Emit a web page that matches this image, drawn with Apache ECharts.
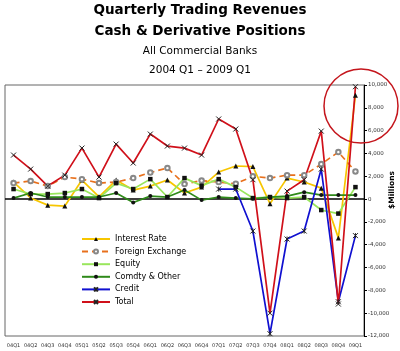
<!DOCTYPE html>
<html>
<head>
<meta charset="utf-8">
<script src="https://cdn.jsdelivr.net/npm/echarts@6/dist/echarts.min.js"></script>
<style>
html,body{margin:0;padding:0;background:#fff;}
#chart{width:400px;height:351px;}
</style>
</head>
<body>
<div id="chart"></div>
<script>
const categories = ['04Q1','04Q2','04Q3','04Q4','05Q1','05Q2','05Q3','05Q4','06Q1','06Q2','06Q3','06Q4','07Q1','07Q2','07Q3','07Q4','08Q1','08Q2','08Q3','08Q4','09Q1'];
const interestRate = [1490, 100, -530, -610, 1670, 200, 1670, 790, 1140, 1670, 530, 1050, 2370, 2900, 2850, -400, 1840, 1500, 960, -3400, 9100];
const foreignExchange = [1400, 1580, 1140, 1930, 1750, 1400, 1490, 1840, 2330, 2720, 1320, 1620, 1490, 1350, 2000, 1840, 2100, 2100, 3070, 4120, 2420];
const equity = [880, 440, 440, 530, 880, 90, 1400, 880, 1750, 180, 1840, 1180, 1750, 1050, 90, 180, 90, 180, -960, -1270, 1050];
const comdtyOther = [90, 530, 180, 180, 180, 180, 530, -300, 260, 180, 790, -90, 180, 90, 30, 180, 260, 610, 350, 350, 350];
const credit = [null, null, null, null, null, null, null, null, null, null, null, null, 880, 880, -2800, -11800, -3500, -2800, 2630, -9000, -3200];
const total = [3860, 2630, 1140, 2100, 4470, 1930, 4820, 3160, 5700, 4650, 4470, 3860, 7020, 6140, 1700, -10000, 700, 1700, 5960, -9200, 9850];
const yTicks = {min: -12000, max: 10000, interval: 2000};

const FONT = '"DejaVu Sans", Verdana, sans-serif';
const X_PATH = 'path://M0 0L10 10M10 0L0 10';
const AST_PATH = 'path://M0 0L10 10M10 0L0 10M5 0L5 10';

const chart = echarts.init(document.getElementById('chart'), null, {renderer: 'canvas'});

function lineSeries(name, data, color, symbol, size, extra) {
  return Object.assign({
    name: name,
    type: 'line',
    data: data,
    symbol: symbol,
    symbolSize: size,
    showAllSymbol: true,
    connectNulls: false,
    lineStyle: {color: color, width: 1.7},
    itemStyle: {color: '#111', borderColor: '#111', borderWidth: 0},
    emphasis: {disabled: true},
    animation: false,
    z: 3
  }, extra || {});
}

const option = {
  backgroundColor: '#fff',
  animation: false,
  textStyle: {fontFamily: FONT},
  grid: {left: 5, right: 36, top: 85, bottom: 15, show: true, borderColor: '#666', borderWidth: 1, backgroundColor: 'transparent'},
  legend: {
    orient: 'vertical',
    left: 81,
    top: 235,
    padding: 0,
    itemWidth: 28,
    itemHeight: 5,
    itemGap: 4.6,
    textStyle: {fontFamily: FONT, fontSize: 8, color: '#000', lineHeight: 8},
    data: ['Interest Rate','Foreign Exchange','Equity','Comdty & Other','Credit','Total']
  },
  xAxis: {
    type: 'category',
    data: categories,
    boundaryGap: true,
    axisLine: {show: false, onZero: false},
    axisTick: {show: false},
    axisLabel: {interval: 0, fontSize: 5, color: '#333', margin: 7, fontFamily: FONT},
    splitLine: {show: false}
  },
  yAxis: {
    type: 'value',
    position: 'right',
    min: yTicks.min,
    max: yTicks.max,
    interval: yTicks.interval,
    axisLine: {show: true, lineStyle: {color: '#000', width: 1}},
    axisTick: {show: true, length: 3, lineStyle: {color: '#000'}},
    axisLabel: {fontSize: 5.5, color: '#333', margin: 4, fontFamily: FONT,
      formatter: v => v.toLocaleString('en-US')},
    splitLine: {show: false}
  },
  series: [
    lineSeries('Interest Rate', interestRate, '#f7c600', 'triangle', 5),
    lineSeries('Foreign Exchange', foreignExchange, '#e8701c', 'emptyCircle', 4.5, {
      lineStyle: {color: '#e8701c', width: 1.7, type: [6, 4]},
      itemStyle: {color: '#888', borderColor: '#888', borderWidth: 1}
    }),
    lineSeries('Equity', equity, '#99e65c', 'rect', 4.5),
    lineSeries('Comdty & Other', comdtyOther, '#2f8a1a', 'circle', 4),
    lineSeries('Credit', credit, '#1010d0', AST_PATH, 5, {
      itemStyle: {color: '#222', borderColor: '#222', borderWidth: 1}
    }),
    lineSeries('Total', total, '#d0101a', X_PATH, 5, {
      itemStyle: {color: '#222', borderColor: '#222', borderWidth: 1},
      markLine: {
        silent: true,
        symbol: 'none',
        label: {show: false},
        lineStyle: {color: '#000', width: 1.6, type: 'solid'},
        data: [{yAxis: 0}],
        z: 1
      }
    })
  ],
  graphic: [
    {type: 'text', z: 10, style: {x: 200, y: 10, text: 'Quarterly Trading Revenues', align: 'center', verticalAlign: 'middle', font: 'bold 13.5px ' + FONT, fill: '#000'}},
    {type: 'text', z: 10, style: {x: 200, y: 31, text: 'Cash & Derivative Positions', align: 'center', verticalAlign: 'middle', font: 'bold 13.5px ' + FONT, fill: '#000'}},
    {type: 'text', z: 10, style: {x: 200, y: 51, text: 'All Commercial Banks', align: 'center', verticalAlign: 'middle', font: '10.5px ' + FONT, fill: '#000'}},
    {type: 'text', z: 10, style: {x: 200, y: 70, text: '2004 Q1 \u2013 2009 Q1', align: 'center', verticalAlign: 'middle', font: '10.5px ' + FONT, fill: '#000'}},
    {type: 'text', z: 10, x: 392, y: 190, rotation: Math.PI / 2, style: {x: 0, y: 0, text: '$Millions', align: 'center', verticalAlign: 'middle', font: 'bold 7.5px ' + FONT, fill: '#000'}},
    {type: 'circle', z: 20, shape: {cx: 361, cy: 106, r: 37}, style: {fill: 'none', stroke: '#c4151c', lineWidth: 1.5}}
  ]
};

chart.setOption(option);
</script>
</body>
</html>
